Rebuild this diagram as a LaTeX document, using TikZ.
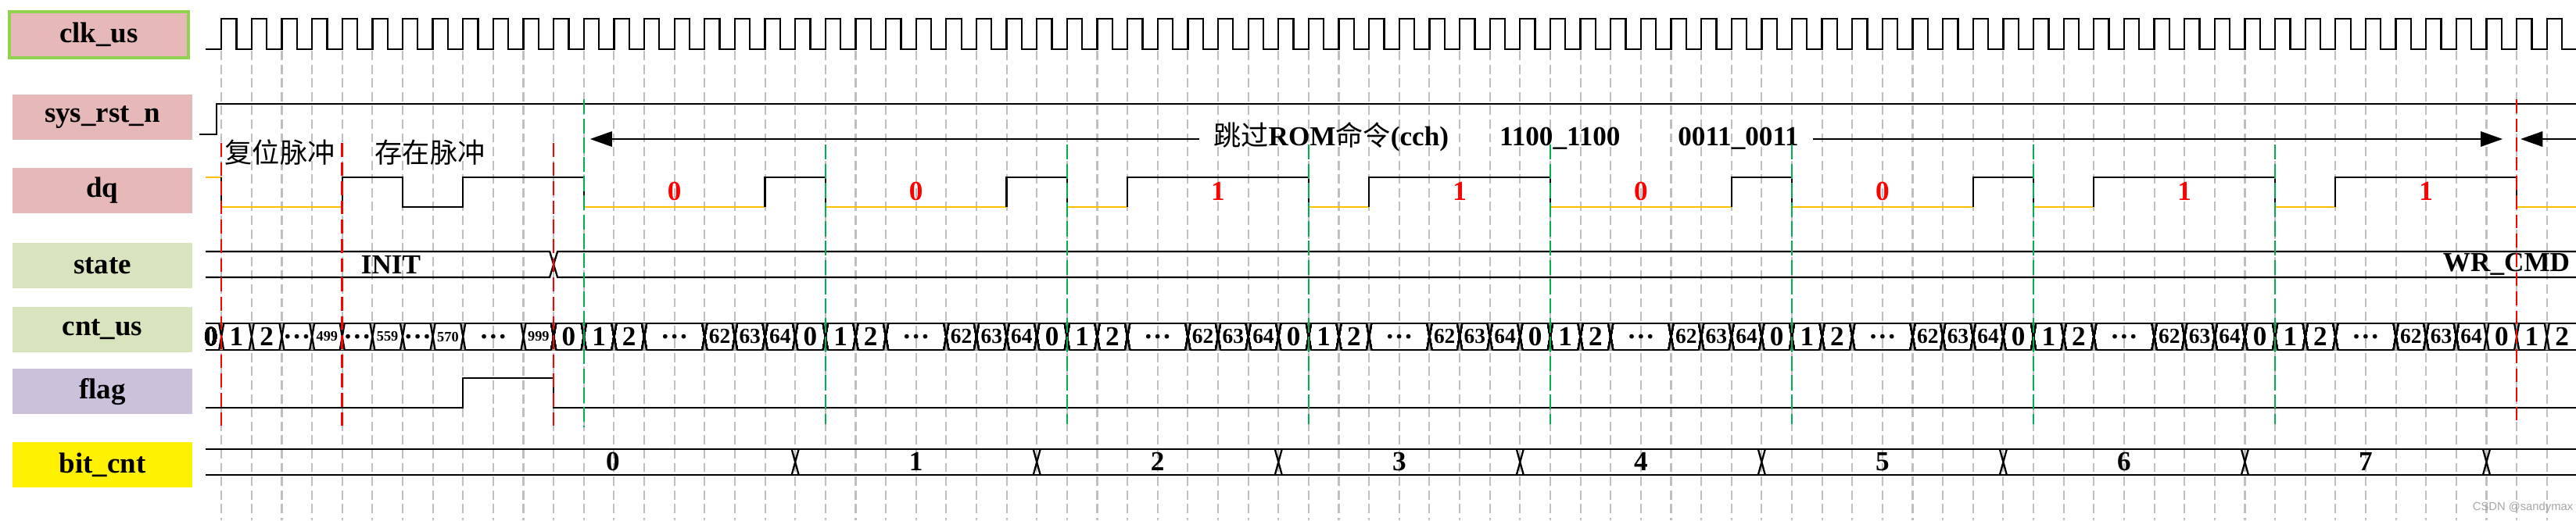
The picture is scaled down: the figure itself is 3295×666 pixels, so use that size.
\documentclass[tikz,border=0pt]{standalone}
\usepackage{fontspec}
\setmainfont{Liberation Serif}
\newfontfamily\cjk{Noto Sans CJK SC}
\newfontfamily\wmark{Liberation Sans}
\usetikzlibrary{positioning,arrows.meta}
\definecolor{boxpink}{HTML}{E6B9B8}
\definecolor{boxgreen}{HTML}{D7E4BD}
\definecolor{boxlilac}{HTML}{CCC1DA}
\definecolor{clkedge}{HTML}{92D050}
\definecolor{lowyel}{HTML}{FFC000}
\definecolor{bitgreen}{HTML}{00B050}
\newcommand{\clkz}{283.2}
\newcommand{\clkp}{38.63}
\newcommand{\tck}[1]{\clkz+(#1)*\clkp}
\newcommand{\hourglass}[1]{%
	\fill[black!30] ({\tck{#1}-3},414) -- ({\tck{#1}+3},414) -- ({\tck{#1}},431) -- cycle;
	\fill[black!30] ({\tck{#1}-3},448) -- ({\tck{#1}+3},448) -- ({\tck{#1}},431) -- cycle;
	\draw[sig] ({\tck{#1}-3},414) -- ({\tck{#1}+3},448) ({\tck{#1}-3},448) -- ({\tck{#1}+3},414);}

\begin{document}
\begin{tikzpicture}[x=0.01cm, y=-0.01cm,
	sigbox/.style={rectangle, outer sep=0pt, minimum width=23mm, minimum height=5.8mm, font=\bfseries\fontsize{10.5}{12}\selectfont},
	sig/.style={line width=0.65pt},
	gridline/.style={black!25, line width=0.6pt, dash pattern=on 3.4pt off 1.6pt},
	rstmark/.style={red, line width=0.7pt, dash pattern=on 5pt off 2pt},
	bitmark/.style={bitgreen, line width=0.7pt, dash pattern=on 5.5pt off 1.5pt},
	val/.style={inner sep=0pt, font=\bfseries\fontsize{10}{12}\selectfont},
	bitval/.style={val, text=red},
	cntbig/.style={val},
	cntmid/.style={inner sep=0pt, font=\bfseries\fontsize{7.8}{9}\selectfont},
	cnttiny/.style={inner sep=0pt, font=\bfseries\fontsize{5.2}{6}\selectfont},
	cmdarrow/.style={sig, -{Triangle[length=8pt, width=5.5pt]}}]
	\useasboundingbox (0,0) rectangle (3295,666);

	\node (clklbl) [sigbox, draw=clkedge, line width=1.2pt, fill=boxpink, minimum width=22.9mm, minimum height=5.9mm] at (126.5,44.5) {clk\_us};
	\node (rstlbl) [sigbox, fill=boxpink] at (131,150) {sys\_rst\_n};
	\node (dqlbl) [sigbox, fill=boxpink, below=3.6mm of rstlbl] {dq};
	\node (statelbl) [sigbox, fill=boxgreen, below=3.8mm of dqlbl] {state};
	\node (cntlbl) [sigbox, fill=boxgreen, below=2.4mm of statelbl] {cnt\_us};
	\node (flaglbl) [sigbox, fill=boxlilac, below=2.1mm of cntlbl] {flag};
	\node (bitlbl) [sigbox, fill=yellow, below=3.6mm of flaglbl] {bit\_cnt};

	\foreach \k in {0,...,77}
		\draw[gridline] ({\tck{\k}},65) -- ({\tck{\k}},666);

	\draw[sig] (263,63) \foreach \k in {0,...,77}{ -- ({\tck{\k}},63) -- ({\tck{\k}},24) -- ({\tck{\k+.5}},24) -- ({\tck{\k+.5}},63) } -- (3295,63);

	\draw[sig] (255,172) -- (277,172) -- (277,133) -- (3295,133);

	\node (rstpulse) [font=\cjk\fontsize{10}{12}\selectfont] at (358,195) {复位脉冲};
	\node (prespulse) [font=\cjk\fontsize{10}{12}\selectfont] at (550,195) {存在脉冲};
	\node (skiprom) [anchor=west, inner xsep=5pt, inner ysep=0pt, text height=6.5pt, text depth=1.5pt, font=\fontsize{10}{12}\selectfont] at (1534,178)
		{{\cjk 跳过}\textbf{ROM}{\cjk 命令}\textbf{(cch)}\hspace{18.5pt}\textbf{1100\_1100}\hspace{21pt}\textbf{0011\_0011}};
	\coordinate (cmdbeg) at ({\tck{12}+8},178);
	\coordinate (cmdend) at ({\tck{76}-18},178);
	\coordinate (nextbeg) at ({\tck{76}+5},178);
	\coordinate (nextcmd) at (3295,178);
	\draw[cmdarrow] (skiprom) -- (cmdbeg);
	\draw[cmdarrow] (skiprom) -- (cmdend);
	\draw[cmdarrow] (nextcmd) -- (nextbeg);

	\draw[sig, lowyel] (263,227) -- ({\tck{0}},227);
	\draw[sig, lowyel] ({\tck{0}},265) -- ({\tck{4}},265);
	\draw[sig] ({\tck{0}},227) -- ({\tck{0}},265);
	\draw[sig] ({\tck{4}},265) -- ({\tck{4}},227) -- ({\tck{6}},227) -- ({\tck{6}},265) -- ({\tck{8}},265) -- ({\tck{8}},227) -- ({\tck{12}},227);
	\foreach \bv [count=\bn from 0] in {0,0,1,1,0,0,1,1}{
		\pgfmathsetmacro{\bstart}{12+8*\bn}
		\pgfmathsetmacro{\brise}{\bstart+2+4*(1-\bv)}
		\pgfmathsetmacro{\bmid}{\bstart+5-2*(1-\bv)}
		\draw[sig, lowyel] ({\tck{\bstart}},265) -- ({\tck{\brise}},265);
		\draw[sig] ({\tck{\bstart}},227) -- ({\tck{\bstart}},265);
		\draw[sig] ({\tck{\brise}},265) -- ({\tck{\brise}},227) -- ({\tck{\bstart+8}},227);
		\node (dqbit\bn) [bitval] at ({\tck{\bmid}},245) {\bv};
	}
	\draw[sig, lowyel] ({\tck{76}},265) -- (3295,265);
	\draw[sig] ({\tck{76}},227) -- ({\tck{76}},265);

	\draw[sig] (263,322) -- ({\tck{11}-5},322) -- ({\tck{11}+5},355) -- (3295,355);
	\draw[sig] (263,355) -- ({\tck{11}-5},355) -- ({\tck{11}+5},322) -- (3295,322);
	\node (init) [val] at (500,339) {INIT};
	\node (wrcmd) [val] at (3206,338) {WR\_CMD};

	\draw[sig] (263,414) -- (3295,414);
	\draw[sig] (263,448) -- (3295,448);
	\foreach \t in {0,...,8,10,75,76,77}
		\hourglass{\t}
	\foreach \n in {0,...,7}
		\foreach \o in {0,1,2,3,5,6,7}{
			\pgfmathsetmacro{\t}{11+8*\n+\o}
			\hourglass{\t}
		}
	\node (cntfirst) [cntbig] at (270,431) {0};
	\foreach \ka/\kb/\cv/\cf in {0/1/1/cntbig, 1/2/2/cntbig, 2/3/\ldots/cntbig, 3/4/499/cnttiny, 4/5/\ldots/cntbig, 5/6/559/cnttiny, 6/7/\ldots/cntbig, 7/8/570/cnttiny, 8/10/\ldots/cntbig, 10/11/999/cnttiny}
		\node (cnt\ka) [\cf] at ({\tck{(\ka+\kb)/2}},431) {\cv};
	\foreach \n in {0,...,7}
		\foreach \ka/\kb/\cv/\cf in {0/1/0/cntbig, 1/2/1/cntbig, 2/3/2/cntbig, 3/5/\ldots/cntbig, 5/6/62/cntmid, 6/7/63/cntmid, 7/8/64/cntmid}
			\node (cnt-\n-\ka) [\cf] at ({\tck{11+8*\n+(\ka+\kb)/2}},431) {\cv};
	\foreach \ka/\cv in {75/0, 76/1, 77/2}
		\node (cntlast\ka) [cntbig] at ({\tck{\ka+.5}},431) {\cv};

	\draw[sig] (263,522) -- ({\tck{8}},522) -- ({\tck{8}},484) -- ({\tck{11}},484) -- ({\tck{11}},522) -- (3295,522);

	\draw[sig] (263,575) -- (3295,575);
	\draw[sig] (263,608) -- (3295,608);
	\foreach \t in {19,27,...,75}
		\draw[sig] ({\tck{\t}-4.5},575) -- ({\tck{\t}+4.5},608) ({\tck{\t}-4.5},608) -- ({\tck{\t}+4.5},575);
	\node (bc0) [val] at (784,591) {0};
	\foreach \n in {1,...,7}
		\node (bc\n) [val] at ({\tck{15+8*\n}},591) {\n};

	\foreach \k in {0,4,11}
		\draw[rstmark] ({\tck{\k}},183) -- ({\tck{\k}},545);
	\draw[rstmark] ({\tck{76}},127) -- ({\tck{76}},542);
	\draw[bitmark] ({\tck{12}},127) -- ({\tck{12}},547);
	\foreach \k in {20,28,...,68}
		\draw[bitmark] ({\tck{\k}},185) -- ({\tck{\k}},543);

	\node (csdn) [font=\wmark\fontsize{4.2}{5}\selectfont, text=black!35] at (3227,650) {CSDN @sandymax};
\end{tikzpicture}
\end{document}
